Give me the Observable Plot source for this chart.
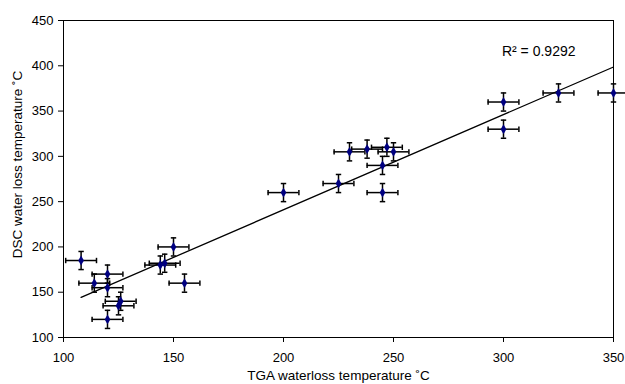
<!DOCTYPE html>
<html>
<head>
<meta charset="utf-8">
<script src="https://cdn.jsdelivr.net/npm/d3@7"></script>
<script src="https://cdn.jsdelivr.net/npm/@observablehq/plot@0.6"></script>
<style>
  html, body { margin: 0; padding: 0; background: #fff; }
</style>
</head>
<body>
<div id="chart"></div>
<script>
// Data
const tga = [108, 120, 114, 120, 126, 125, 120, 144, 146, 150, 155, 200, 225, 230, 238, 247, 250, 245, 245, 300, 300, 325, 350];
const dsc = [185, 170, 160, 155, 140, 135, 120, 180, 182, 200, 160, 260, 270, 305, 308, 310, 305, 290, 260, 360, 330, 370, 370];
const tgaErr = 7;
const dscErr = 10;
const xTicks = [100, 150, 200, 250, 300, 350];
const yTicks = [100, 150, 200, 250, 300, 350, 400, 450];
const xTitle = "TGA waterloss temperature \u02DAC";
const yTitle = "DSC water loss temperature \u02DAC";
const r2Label = "R\u00B2 = 0.9292";

const data = tga.map((x, i) => ({x, y: dsc[i], ex: tgaErr, ey: dscErr}));

// custom cap symbols
const hCap = {draw(ctx, size) { const r = Math.sqrt(size / Math.PI); ctx.moveTo(-r, 0); ctx.lineTo(r, 0); }};
const vCap = {draw(ctx, size) { const r = Math.sqrt(size / Math.PI); ctx.moveTo(0, -r); ctx.lineTo(0, r); }};

const font = "Liberation Sans, Arial, Helvetica, sans-serif";

const chart = Plot.plot({
  width: 625,
  height: 384,
  marginLeft: 63,
  marginRight: 12,
  marginTop: 20,
  marginBottom: 47,
  style: {fontFamily: font, fontSize: "13px", color: "black", background: "white"},
  x: {domain: [100, 350]},
  y: {domain: [100, 450]},
  marks: [
    Plot.frame({stroke: "black", strokeWidth: 1}),
    Plot.axisX({ticks: xTicks, tickSize: 5, tickPadding: 10, label: null, fontSize: 13}),
    Plot.axisY({ticks: yTicks, tickSize: 5, tickPadding: 5, label: null, fontSize: 13}),
    Plot.linearRegressionY(data, {x: "x", y: "y", ci: 0, stroke: "black", strokeWidth: 1.3}),
    Plot.ruleY(data, {y: "y", x1: d => d.x - d.ex, x2: d => d.x + d.ex, stroke: "black", strokeWidth: 1.5}),
    Plot.ruleX(data, {x: "x", y1: d => d.y - d.ey, y2: d => d.y + d.ey, stroke: "black", strokeWidth: 1.5}),
    Plot.dot(data, {x: d => d.x - d.ex, y: "y", symbol: vCap, r: 2.7, stroke: "black", strokeWidth: 1.5, fill: "none"}),
    Plot.dot(data, {x: d => d.x + d.ex, y: "y", symbol: vCap, r: 2.7, stroke: "black", strokeWidth: 1.5, fill: "none"}),
    Plot.dot(data, {x: "x", y: d => d.y - d.ey, symbol: hCap, r: 2.7, stroke: "black", strokeWidth: 1.5, fill: "none"}),
    Plot.dot(data, {x: "x", y: d => d.y + d.ey, symbol: hCap, r: 2.7, stroke: "black", strokeWidth: 1.5, fill: "none"}),
    Plot.dot(data, {x: "x", y: "y", symbol: "diamond", r: 3, fill: "#000080", stroke: "none"}),
    Plot.text([r2Label], {frameAnchor: "top-right", dx: -38, dy: 31, textAnchor: "end", lineAnchor: "middle", fontSize: 14, fill: "black"}),
    Plot.text([xTitle], {frameAnchor: "bottom", dy: 38, textAnchor: "middle", lineAnchor: "middle", fontSize: 13.5, fill: "black"}),
    Plot.text([yTitle], {frameAnchor: "left", dx: -45.5, dy: -14.5, rotate: -90, textAnchor: "middle", lineAnchor: "middle", fontSize: 13.5, fill: "black"})
  ]
});

document.getElementById("chart").append(chart);
</script>
</body>
</html>
